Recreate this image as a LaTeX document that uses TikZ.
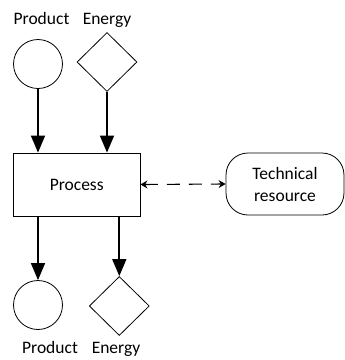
\documentclass[tikz,border=0pt]{standalone}
\usepackage{fontspec}
\setmainfont{Carlito}
\usetikzlibrary{shapes.geometric,arrows.meta}
\begin{document}
\begin{tikzpicture}[x=1pt,y=-1pt,
  every node/.style={font=\fontsize{17.5}{22}\selectfont},
  caption/.style={anchor=base, inner sep=0pt},
  flowline/.style={draw, line width=0.8pt},
  roundshape/.style={flowline, circle, minimum size=49pt, inner sep=0pt},
  diamshape/.style={flowline, diamond, minimum width=60pt, minimum height=59pt, inner sep=0pt},
  procbox/.style={flowline, rectangle, minimum width=126.7pt, minimum height=63pt},
  resbox/.style={flowline, rectangle, rounded corners=22pt, minimum width=118pt, minimum height=62pt, align=center},
  flow/.style={line width=1.6pt, -{Triangle[width=14pt,length=17pt]}},
  link/.style={line width=1.1pt, dash pattern=on 13pt off 9pt,
    {Stealth[width=8pt,length=7pt]}-{Stealth[width=8pt,length=7pt]}}
]
\useasboundingbox (0,0) rectangle (345,360);

% inputs
\node[caption] (lbpin) at (41.5,24.5) {Product};
\node[caption] (lbein) at (107,24.5) {Energy};
\node[roundshape] (pin) at (38,64) {};
\node[diamshape] (ein) at (107,62) {};

% process and resource
\node[procbox] (proc) at (76.7,184.5) {Process};
\node[resbox] (res) at (285,184) {Technical\\resource};

% outputs
\node[roundshape] (pout) at (38,305) {};
\node[diamshape] (eout) at (119.3,306) {};
\node[caption] (lbpout) at (50,353) {Product};
\node[caption] (lbeout) at (116,353) {Energy};

% connectors
\draw[flow] (pin.south) -- (pin.south |- proc.north);
\draw[flow] (ein.south) -- (ein.south |- proc.north);
\draw[flow] (proc.south -| pout.north) -- (pout.north);
\draw[flow] (proc.south -| eout.north) -- (eout.north);
\draw[link] (proc.east) -- (res.west);
\end{tikzpicture}
\end{document}
